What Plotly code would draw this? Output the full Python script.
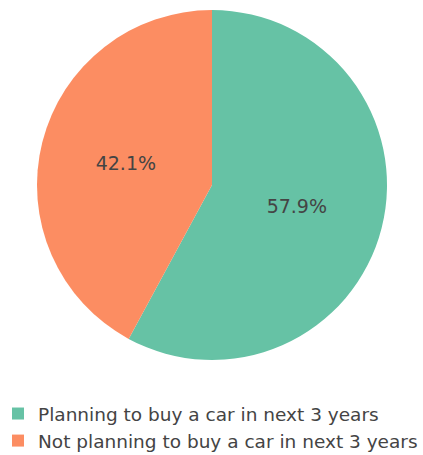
import plotly.graph_objects as go

# Share of respondents by car-purchase intention
labels = ["Planning to buy a car in next 3 years",
          "Not planning to buy a car in next 3 years"]
shares = [57.9, 42.1]
colors = ["#66c2a5", "#fc8d62"]

W, H = 423, 455

fig = go.Figure(go.Pie(
    labels=labels,
    values=shares,
    marker=dict(colors=colors, line=dict(width=0)),
    direction="clockwise",
    sort=False,
    textinfo="percent",
    textposition="inside",
    insidetextfont=dict(color="#444444", size=19),
    domain=dict(x=[37 / W, 387 / W], y=[1 - 360 / H, 1 - 10 / H]),
))

fig.update_layout(
    width=W, height=H,
    margin=dict(l=0, r=0, t=0, b=0, autoexpand=False),
    paper_bgcolor="white",
    font=dict(family="DejaVu Sans", size=18.5, color="#444444"),
    showlegend=True,
    legend=dict(x=-2 / W, y=1 - 395 / H, xanchor="left", yanchor="top",
                font=dict(size=18.5), itemwidth=30),
)

fig.write_html("out.html")
